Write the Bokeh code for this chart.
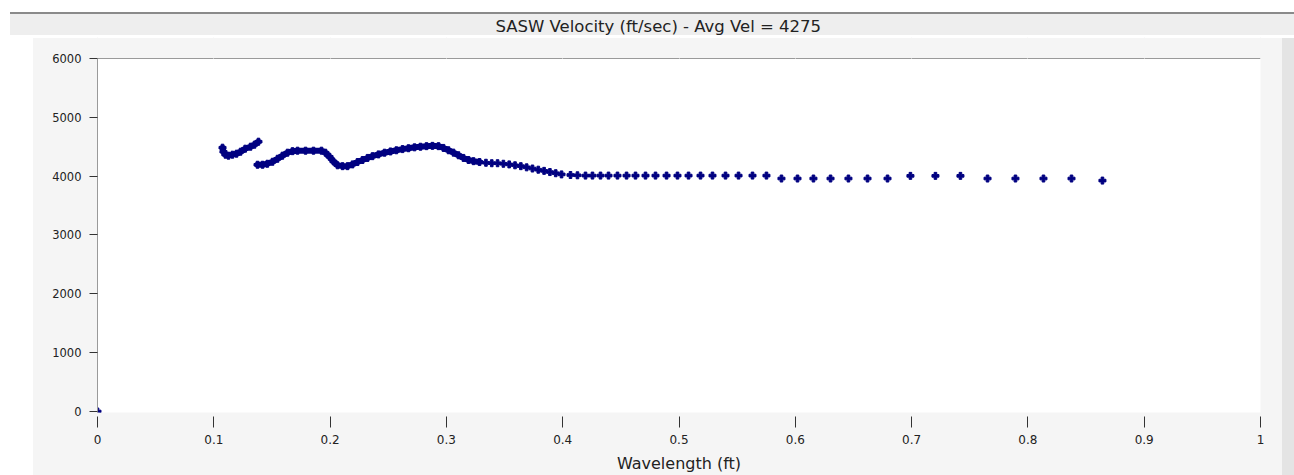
from bokeh.plotting import figure
from bokeh.models import Range1d, FixedTicker, LinearAxis
from bokeh.embed import file_html
from bokeh.resources import INLINE

# ---------------- data ----------------
title_text = "SASW Velocity (ft/sec) - Avg Vel = 4275"
x_label = "Wavelength (ft)"

x_ticks = [0, 0.1, 0.2, 0.3, 0.4, 0.5, 0.6, 0.7, 0.8, 0.9, 1]
x_tick_labels = ["0", "0.1", "0.2", "0.3", "0.4", "0.5", "0.6", "0.7", "0.8", "0.9", "1"]
y_ticks = [0, 1000, 2000, 3000, 4000, 5000, 6000]

origin_x = [0.0]
origin_y = [0.0]

seg_a_x = [0.1075, 0.1083, 0.110, 0.1126, 0.116, 0.1195, 0.123, 0.127, 0.1316, 0.135, 0.1384]
seg_a_y = [4484, 4416, 4365, 4348, 4365, 4382, 4416, 4467, 4501, 4535, 4586]

seg_b_x = [0.1376, 0.1419, 0.146, 0.1505, 0.1548, 0.159, 0.1634, 0.1677, 0.172, 0.1789,
           0.1857, 0.1926, 0.196, 0.1995, 0.2029, 0.2064, 0.2107, 0.215, 0.2193, 0.2236,
           0.2279, 0.2322, 0.2365, 0.2416, 0.2468, 0.2519, 0.257, 0.2623, 0.2674, 0.2726,
           0.2777, 0.2829, 0.288, 0.2932, 0.2975, 0.3018, 0.3061, 0.3104, 0.3147, 0.319,
           0.3233, 0.3285]
seg_b_y = [4194, 4194, 4211, 4245, 4296, 4348, 4399, 4425, 4433, 4433,
           4433, 4433, 4399, 4330, 4250, 4185, 4170, 4170, 4200, 4240,
           4275, 4310, 4340, 4370, 4399, 4420, 4440, 4460, 4475, 4490,
           4500, 4510, 4515, 4510, 4480, 4440, 4400, 4355, 4310, 4275,
           4255, 4240]

dots_x = [0.334, 0.339, 0.344, 0.349, 0.354, 0.359, 0.364, 0.369, 0.374, 0.379,
          0.384, 0.389, 0.394, 0.399,
          0.4067, 0.4127, 0.4196, 0.4256, 0.4325, 0.4394, 0.4471, 0.4549, 0.4626, 0.4712,
          0.4798, 0.4893, 0.4987, 0.5082, 0.5185, 0.5288, 0.54, 0.5512, 0.5632, 0.5752,
          0.5881, 0.6019, 0.6156, 0.6303, 0.6457, 0.6621, 0.6793,
          0.699, 0.7205, 0.742,
          0.7653, 0.7893, 0.8134, 0.8375,
          0.8641]
dots_y = [4228, 4220, 4220, 4211, 4200, 4185, 4170, 4150, 4130, 4110,
          4090, 4070, 4050, 4030,
          4020, 4015, 4010, 4010, 4010, 4010, 4010, 4010, 4010, 4010,
          4010, 4010, 4010, 4010, 4010, 4010, 4010, 4010, 4010, 4010,
          3960, 3960, 3960, 3960, 3960, 3960, 3960,
          4005, 4005, 4005,
          3960, 3960, 3960, 3960,
          3925]

# ---------------- figure ----------------
W, H = 1294, 475
FL, FB = 97, 412  # frame left / bottom in canvas px
NAVY = "#000080"
FONT = "DejaVu Sans"
TXT = "#222222"
PANEL = "#f5f5f5"

page_bg = {
    "background-color": PANEL,
    "background-image": ", ".join([
        "linear-gradient(#ffffff, #ffffff)",
        "linear-gradient(#ffffff, #ffffff)",
        "linear-gradient(#e4e4e4, #e4e4e4)",
        "linear-gradient(to bottom, #ffffff 0px, #ffffff 12px, #8a8a8a 12px, #8a8a8a 14px, "
        "#eeeeee 14px, #eeeeee 35px, #ffffff 35px, #ffffff 38px, #f5f5f5 38px, #f5f5f5 100%)",
    ]),
    "background-size": "33px 440px, 10px 23px, 12px 437px, 100% 100%",
    "background-position": "0px 35px, 0px 12px, 1282px 38px, 0px 0px",
    "background-repeat": "no-repeat",
}

p = figure(width=W, height=H, output_backend="svg", toolbar_location=None,
           x_range=Range1d(0, 1), y_range=Range1d(-17, 6000),
           min_border_left=FL, min_border_right=W - 1260,
           min_border_top=58, min_border_bottom=H - FB,
           background_fill_color="white", border_fill_color=None,
           outline_line_color=None, styles=page_bg)
p.grid.visible = False

# bottom x axis and left y axis (grab them before adding the extra top axis)
xa = p.below[0]
ya = p.left[0]

# top border of plotting area (axis line only); its hidden ticks space the title upward
top_axis = LinearAxis(ticker=FixedTicker(ticks=x_ticks), axis_line_color="#9a9a9a",
                      major_tick_in=0, major_tick_out=21, minor_tick_out=0, minor_tick_in=0,
                      major_tick_line_color=PANEL, minor_tick_line_color=None,
                      major_label_overrides={t: "" for t in x_ticks},
                      major_label_text_font_size="0px", major_label_text_color=None,
                      major_label_standoff=0)
p.add_layout(top_axis, "above")

# title
p.title.text = title_text
p.title.align = "left"
p.title.offset = 495 - FL
p.title.vertical_align = "top"
p.title.standoff = 0
p.title.text_font = FONT
p.title.text_font_size = "16.5px"
p.title.text_font_style = "normal"
p.title.text_color = TXT

# x axis
xa.ticker = FixedTicker(ticks=x_ticks)
xa.major_label_overrides = {t: l for t, l in zip(x_ticks, x_tick_labels)}
xa.axis_line_color = None
xa.major_tick_in = -4
xa.major_tick_out = 15
xa.major_tick_line_color = "#333333"
xa.minor_tick_line_color = None
xa.major_label_standoff = 7
xa.major_label_text_font = FONT
xa.major_label_text_font_size = "12px"
xa.major_label_text_color = TXT
xa.axis_label = x_label
xa.axis_label_text_font = FONT
xa.axis_label_text_font_size = "16px"
xa.axis_label_text_font_style = "normal"
xa.axis_label_text_color = TXT
xa.axis_label_standoff = 7

# y axis
ya.ticker = FixedTicker(ticks=y_ticks)
ya.axis_line_color = "#9a9a9a"
ya.major_tick_in = 0
ya.major_tick_out = 8
ya.major_tick_line_color = "#333333"
ya.minor_tick_line_color = None
ya.major_label_standoff = 8
ya.major_label_text_font = FONT
ya.major_label_text_font_size = "11.5px"
ya.major_label_text_color = TXT

# data
MS = 7
p.scatter(origin_x, origin_y, marker="plus", size=MS, color=NAVY)
p.line(seg_a_x, seg_a_y, line_width=6, color=NAVY, line_join="round", line_cap="round")
p.scatter(seg_a_x, seg_a_y, marker="plus", size=MS, color=NAVY)
p.line(seg_b_x, seg_b_y, line_width=6, color=NAVY, line_join="round", line_cap="round")
p.scatter(seg_b_x, seg_b_y, marker="plus", size=MS, color=NAVY)
p.scatter(dots_x, dots_y, marker="plus", size=MS, color=NAVY)

open("out.html", "w").write(file_html(p, INLINE))
